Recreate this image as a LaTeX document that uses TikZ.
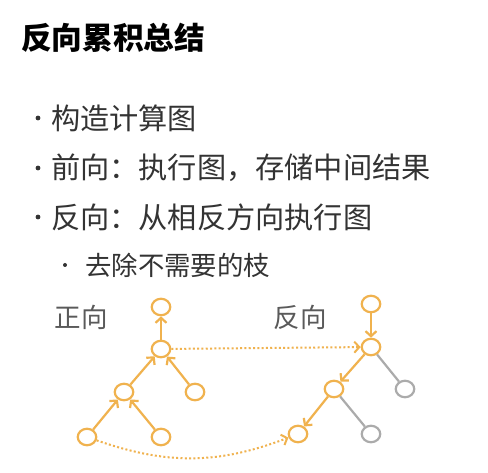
\documentclass[tikz,border=0pt]{standalone}
\usepackage{fontspec}
\newfontfamily\cjk{Noto Sans CJK SC}
\usetikzlibrary{arrows.meta}
\usetikzlibrary{shapes.geometric}

\definecolor{orangeline}{HTML}{F0B24E}
\definecolor{greyline}{HTML}{ABABAB}
\definecolor{textgrey}{HTML}{333333}
\definecolor{labelgrey}{HTML}{5A5A5A}

\tikzset{
  vertex/.style={ellipse, draw=orangeline, fill=white, line width=2.2pt,
    minimum width=18.5pt, minimum height=16.5pt, inner sep=0pt},
  deadvertex/.style={vertex, draw=greyline},
  flow/.style={draw=orangeline, line width=2.2pt, -{Straight Barb[length=5pt, width=11pt]}},
  deadflow/.style={draw=greyline, line width=2.2pt},
  carry/.style={draw=orangeline, line width=2pt, dash pattern=on 2pt off 2.3pt,
    -{Straight Barb[length=5pt, width=11pt]}},
  bullettext/.style={anchor=west, inner sep=0pt, text=textgrey, font=\cjk\fontsize{29.2pt}{31pt}\selectfont},
}

\begin{document}
\begin{tikzpicture}[x=1pt, y=-1pt]
  \useasboundingbox[fill=white] (0,0) rectangle (488,473);

  % title
  \node[anchor=west, inner sep=0pt, font=\cjk\bfseries\fontsize{30.7pt}{32pt}\selectfont] (title) at (21,38) {反向累积总结};

  % bullet list
  \fill[textgrey] (38,118) circle (2.4pt);
  \node[bullettext] (itemA) at (51,118) {构造计算图};
  \fill[textgrey] (38,168) circle (2.4pt);
  \node[bullettext] (itemB) at (51,168) {前向：执行图，存储中间结果};
  \fill[textgrey] (38,217) circle (2.4pt);
  \node[bullettext] (itemC) at (51,217) {反向：从相反方向执行图};
  \fill[textgrey] (65,265) circle (2pt);
  \node[bullettext, font=\cjk\fontsize{26.4pt}{28pt}\selectfont] (itemD) at (85,265) {去除不需要的枝};

  % labels
  \node[inner sep=0pt, text=labelgrey, font=\cjk\fontsize{26.5pt}{28pt}\selectfont] (fwdlabel) at (81,317) {正向};
  \node[inner sep=0pt, text=labelgrey, font=\cjk\fontsize{26.5pt}{28pt}\selectfont] (bwdlabel) at (300,317) {反向};

  % forward graph
  \node[vertex] (f-top) at (161,307) {};
  \node[vertex] (f-mid) at (161,349) {};
  \node[vertex] (f-l) at (124,392) {};
  \node[vertex] (f-r) at (195,392) {};
  \node[vertex] (f-ll) at (87,437) {};
  \node[vertex] (f-lr) at (161,437) {};

  \draw[flow] (f-mid) to (f-top);
  \draw[flow] (f-l) to (f-mid);
  \draw[flow] (f-r) to (f-mid);
  \draw[flow] (f-ll) to (f-l);
  \draw[flow] (f-lr) to (f-l);

  % backward graph
  \node[vertex] (b-top) at (371,304) {};
  \node[vertex] (b-mid) at (371,347) {};
  \node[vertex] (b-l) at (334,389) {};
  \node[deadvertex] (b-r) at (405,389) {};
  \node[vertex] (b-ll) at (298,434) {};
  \node[deadvertex] (b-lr) at (371,434) {};

  \draw[flow] (b-top) to (b-mid);
  \draw[flow] (b-mid) to (b-l);
  \draw[flow] (b-l) to (b-ll);
  \draw[deadflow] (b-mid) to (b-r);
  \draw[deadflow] (b-l) to (b-lr);

  % stored results
  \draw[carry] (f-mid) to (b-mid);
  \draw[carry] (f-ll) to[bend right=20] (b-ll);
\end{tikzpicture}
\end{document}
